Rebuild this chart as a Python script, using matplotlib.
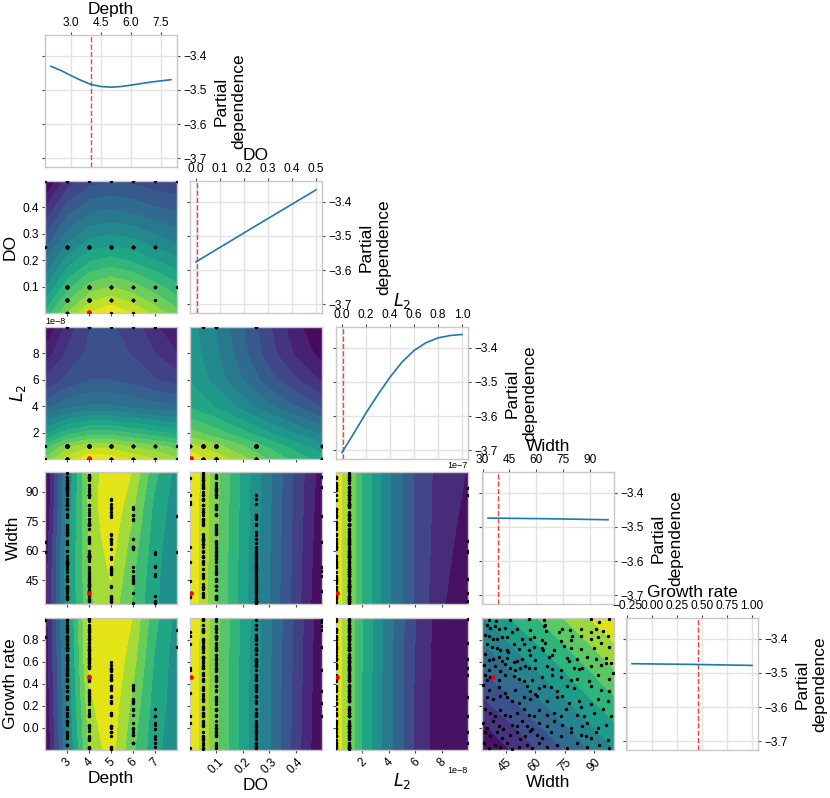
#!/usr/bin/env python3
from __future__ import annotations

import matplotlib
matplotlib.use("Agg")

import matplotlib.pyplot as plt
import numpy as np

plt.rcParams["font.family"] = ["Liberation Sans", "DejaVu Sans"]

NAMES = ["Depth", "DO", "$L_2$", "Width", "Growth rate"]
BOUNDS = [(2, 8), (0.0, 0.5), (0.0, 1e-7), (33, 100), (-0.2, 1.0)]
BEST = [4, 0.004, 1e-9, 38.8, 0.46]

# 1-D partial dependence curves (diagonal)
PD_DEPTH_X = [2, 2.5, 3, 3.5, 4, 4.5, 5, 5.5, 6, 7, 8]
PD_DEPTH_Y = [-3.431, -3.443, -3.458, -3.472, -3.484, -3.490, -3.492,
              -3.490, -3.486, -3.477, -3.470]
PD_DO_X = [0.0, 0.25, 0.5]
PD_DO_Y = [-3.576, -3.470, -3.365]
PD_L2_X = [0, 0.1e-7, 0.2e-7, 0.3e-7, 0.4e-7, 0.5e-7, 0.6e-7, 0.7e-7,
           0.8e-7, 0.9e-7, 1.0e-7]
PD_L2_Y = [-3.707, -3.650, -3.591, -3.537, -3.486, -3.442, -3.408, -3.385,
           -3.371, -3.364, -3.361]
PD_WIDTH_X = [33, 66, 100]
PD_WIDTH_Y = [-3.474, -3.476, -3.479]
PD_GROWTH_X = [-0.2, 0.4, 1.0]
PD_GROWTH_Y = [-3.473, -3.475, -3.478]

PD_TICKS = [-3.7, -3.6, -3.5, -3.4]
DIAG_TICKS = [
    [3.0, 4.5, 6.0, 7.5],
    [0.0, 0.1, 0.2, 0.3, 0.4, 0.5],
    [0.0, 0.2e-7, 0.4e-7, 0.6e-7, 0.8e-7, 1.0e-7],
    [30, 45, 60, 75, 90],
    [-0.25, 0.0, 0.25, 0.5, 0.75, 1.0],
]
PAIR_TICKS = [
    [3, 4, 5, 6, 7],
    [0.1, 0.2, 0.3, 0.4],
    [2e-8, 4e-8, 6e-8, 8e-8],
    [45, 60, 75, 90],
    [0.0, 0.2, 0.4, 0.6, 0.8],
]

# 2-D partial dependence (relative: 0 = lowest, 1 = highest)
DEPTH_GRID = [2, 3, 4, 5, 6, 7, 8]
DO_GRID = [0.0, 0.1, 0.2, 0.3, 0.4, 0.5]
L2_GRID = [0, 1e-8, 2e-8, 4e-8, 6e-8, 8e-8, 1e-7]
WIDTH_GRID5 = [33, 50, 67, 83, 100]
WIDTH_GRID3 = [33, 67, 100]
GROWTH_GRID4 = [-0.2, 0.2, 0.6, 1.0]
GROWTH_GRID3 = [-0.2, 0.4, 1.0]

PD_DO_DEPTH = [
    [0.35, 0.18, 0.05, 0.00, 0.06, 0.14, 0.22],
    [0.50, 0.33, 0.22, 0.18, 0.22, 0.28, 0.35],
    [0.62, 0.47, 0.38, 0.35, 0.38, 0.43, 0.48],
    [0.75, 0.60, 0.52, 0.50, 0.52, 0.56, 0.60],
    [0.87, 0.72, 0.65, 0.63, 0.65, 0.68, 0.70],
    [1.00, 0.84, 0.77, 0.75, 0.76, 0.78, 0.80],
]
PD_L2_DEPTH = [
    [0.20, 0.08, 0.00, 0.02, 0.06, 0.10, 0.15],
    [0.30, 0.18, 0.12, 0.13, 0.17, 0.20, 0.24],
    [0.45, 0.35, 0.30, 0.30, 0.33, 0.36, 0.40],
    [0.68, 0.62, 0.60, 0.60, 0.62, 0.64, 0.66],
    [0.82, 0.76, 0.72, 0.72, 0.74, 0.77, 0.80],
    [0.92, 0.82, 0.76, 0.76, 0.78, 0.83, 0.88],
    [1.00, 0.86, 0.78, 0.77, 0.80, 0.87, 0.95],
]
PD_L2_DO = [
    [0.00, 0.08, 0.16, 0.25, 0.33, 0.40],
    [0.10, 0.16, 0.24, 0.32, 0.40, 0.47],
    [0.22, 0.28, 0.35, 0.43, 0.50, 0.57],
    [0.38, 0.44, 0.52, 0.60, 0.68, 0.75],
    [0.44, 0.52, 0.62, 0.72, 0.80, 0.88],
    [0.46, 0.55, 0.66, 0.78, 0.88, 0.96],
    [0.47, 0.56, 0.68, 0.80, 0.91, 1.00],
]
PD_WIDTH_DEPTH = [
    [0.95, 0.48, 0.22, 0.14, 0.30, 0.45, 0.55],
    [0.95, 0.48, 0.20, 0.10, 0.27, 0.44, 0.55],
    [0.97, 0.50, 0.18, 0.06, 0.23, 0.42, 0.54],
    [1.00, 0.52, 0.17, 0.03, 0.18, 0.40, 0.52],
    [1.00, 0.55, 0.17, 0.05, 0.12, 0.35, 0.50],
]
PD_WIDTH_DO = [
    [0.00, 0.22, 0.42, 0.61, 0.80, 1.00],
    [0.00, 0.21, 0.41, 0.60, 0.79, 0.98],
    [0.00, 0.20, 0.40, 0.59, 0.78, 0.96],
]
PD_WIDTH_L2 = [
    [0.00, 0.17, 0.33, 0.56, 0.75, 0.89, 0.99],
    [0.00, 0.17, 0.33, 0.56, 0.75, 0.87, 0.94],
    [0.00, 0.17, 0.33, 0.56, 0.75, 0.86, 0.91],
]
PD_GROWTH_DEPTH = [
    [1.00, 0.55, 0.16, 0.04, 0.25, 0.42, 0.52],
    [0.98, 0.52, 0.11, 0.02, 0.20, 0.40, 0.50],
    [0.96, 0.50, 0.06, 0.00, 0.14, 0.37, 0.50],
    [0.95, 0.48, 0.04, 0.00, 0.09, 0.33, 0.48],
]
PD_GROWTH_DO = [
    [0.00, 0.21, 0.41, 0.60, 0.80, 1.00],
    [0.00, 0.21, 0.41, 0.60, 0.79, 0.99],
    [0.00, 0.20, 0.40, 0.59, 0.78, 0.98],
]
PD_GROWTH_L2 = [
    [0.00, 0.20, 0.36, 0.60, 0.82, 0.97, 1.00],
    [0.00, 0.20, 0.36, 0.60, 0.82, 0.97, 1.00],
    [0.00, 0.20, 0.35, 0.59, 0.81, 0.96, 0.99],
]
PD_GROWTH_WIDTH = [
    [1.00, 0.75, 0.50],
    [0.75, 0.50, 0.25],
    [0.50, 0.25, 0.00],
]

# evaluated samples
S_DEPTH = [
    3, 4, 3, 4, 2, 3, 4, 3, 4, 4, 3, 4, 3, 4, 3, 4, 3, 4, 3, 4,
    8, 3, 4, 3, 4, 3, 4, 3, 4, 3, 4, 3, 4, 3, 4, 2, 3, 4, 3, 4,
    3, 4, 3, 4, 3, 4, 3, 4, 3, 4, 3, 4, 3, 4, 8, 3, 4, 3, 4, 3,
    4, 3, 4, 3, 4, 3, 4, 3, 4, 3, 5, 4, 3, 4, 3, 4, 3, 4, 3, 4,
    3, 4, 3, 4, 5, 3, 4, 5, 3, 4, 5, 3, 4, 5, 3, 4, 5, 3, 4, 5,
    3, 4, 3, 4, 5, 3, 4, 5, 3, 4, 5, 3, 4, 5, 3, 4, 5, 3, 4, 3,
    4, 3, 6, 5, 3, 4, 6, 5, 3, 4, 6, 5, 3, 4, 6, 5, 3, 4, 3, 5,
    6, 3, 4, 5, 6, 3, 4, 5, 6, 3, 4, 5, 6, 3, 4, 3, 4, 7, 5, 3,
    4, 6, 7, 5, 3, 4, 7, 6, 5, 3, 4, 6, 5, 3, 4, 3, 4, 7, 5, 3,
    4, 6, 7, 5, 3, 4, 7, 6, 5, 3, 4, 6, 5, 3, 4, 3, 5, 7, 3, 4,
    6, 5, 7, 3, 4, 6, 3, 5, 4, 6, 3, 5, 4, 3, 4, 7, 5, 3, 4, 6,
    5, 7, 3, 4, 6, 5, 3, 4, 6, 5, 3, 4,
]
S_DO = [
    0.05, 0.1, 0.25, 0.05, 0.5, 0.05, 0.1, 0.5, 0.05, 0.25,
    0.1, 0.5, 0.25, 0.1, 0.25, 0.05, 0.1, 0.05, 0.1, 0.25,
    0.5, 0.1, 0.05, 0.1, 0.0, 0.05, 0.25, 0.1, 0.25, 0.05,
    0.25, 0.1, 0.05, 0.25, 0.1, 0.25, 0.05, 0.1, 0.05, 0.25,
    0.1, 0.05, 0.1, 0.0, 0.25, 0.05, 0.25, 0.1, 0.25, 0.05,
    0.1, 0.25, 0.0, 0.25, 0.1, 0.05, 0.25, 0.1, 0.05, 0.1,
    0.05, 0.1, 0.05, 0.5, 0.25, 0.1, 0.25, 0.05, 0.25, 0.1,
    0.25, 0.05, 0.25, 0.1, 0.25, 0.05, 0.1, 0.05, 0.25, 0.1,
    0.05, 0.1, 0.05, 0.1, 0.25, 0.0, 0.25, 0.1, 0.25, 0.05,
    0.5, 0.1, 0.25, 0.05, 0.1, 0.05, 0.1, 0.25, 0.05, 0.1,
    0.0, 0.05, 0.1, 0.05, 0.25, 0.1, 0.25, 0.05, 0.25, 0.1,
    0.25, 0.05, 0.25, 0.1, 0.05, 0.1, 0.25, 0.05, 0.1, 0.05,
    0.1, 0.05, 0.25, 0.1, 0.25, 0.0, 0.25, 0.1, 0.25, 0.05,
    0.25, 0.1, 0.05, 0.1, 0.25, 0.05, 0.1, 0.05, 0.5, 0.25,
    0.05, 0.25, 0.1, 0.25, 0.5, 0.25, 0.1, 0.25, 0.05, 0.1,
    0.05, 0.25, 0.1, 0.05, 0.1, 0.05, 0.1, 0.25, 0.05, 0.25,
    0.1, 0.25, 0.5, 0.25, 0.1, 0.25, 0.05, 0.1, 0.05, 0.25,
    0.1, 0.05, 0.1, 0.0, 0.05, 0.1, 0.05, 0.25, 0.1, 0.25,
    0.05, 0.25, 0.1, 0.25, 0.05, 0.25, 0.1, 0.0, 0.25, 0.1,
    0.05, 0.1, 0.25, 0.05, 0.1, 0.05, 0.25, 0.1, 0.25, 0.05,
    0.25, 0.1, 0.25, 0.05, 0.25, 0.1, 0.05, 0.25, 0.1, 0.05,
    0.1, 0.05, 0.25, 0.1, 0.05, 0.25, 0.0, 0.25, 0.1, 0.25,
    0.05, 0.25, 0.1, 0.25, 0.05, 0.25, 0.1, 0.05, 0.1, 0.25,
    0.05, 0.1,
]
# L2 in units of 1e-8
S_L2_E8 = [
    1, 0, 1, 1, 0, 1, 10, 1, 0, 1, 1, 1, 0, 1, 1, 0, 1, 1, 0, 1,
    0, 1, 1, 0, 1, 1, 1, 0, 1, 1, 1, 0, 1, 1, 0, 1, 1, 10, 1, 0,
    1, 1, 0, 1, 1, 0, 1, 1, 1, 0, 1, 0, 1, 1, 1, 0, 1, 1, 0, 1,
    1, 1, 0, 1, 1, 0, 10, 1, 1, 0, 1, 1, 0, 1, 1, 1, 0, 1, 1, 0,
    1, 0, 1, 1, 0, 1, 1, 1, 0, 1, 1, 0, 1, 1, 10, 0, 1, 1, 0, 1,
    1, 1, 0, 1, 1, 0, 1, 1, 1, 0, 1, 0, 1, 1, 0, 1, 1, 0, 1, 10,
    0, 1, 1, 1, 0, 1, 1, 0, 1, 1, 0, 1, 1, 0, 1, 1, 1, 0, 1, 1,
    0, 1, 10, 1, 0, 1, 1, 0, 1, 1, 1, 0, 1, 1, 0, 1, 1, 1, 0, 1,
    1, 0, 1, 1, 0, 1, 10, 1, 0, 1, 1, 1, 0, 1, 1, 0, 1, 1, 1, 0,
    1, 0, 1, 1, 0, 1, 1, 0, 1, 1, 0, 1, 1, 1, 0, 1, 10, 0, 1, 1,
    0, 1, 1, 0, 1, 1, 1, 0, 1, 1, 1, 0, 1, 1, 0, 1, 1, 0, 1, 10,
    1, 0, 1, 1, 0, 1, 1, 1, 0, 1, 1, 0,
]
S_WIDTH = [
    36.8, 40.0, 47.3, 57.0, 64.4, 65.2, 88.2, 92.2, 97.6, 35.4,
    37.1, 39.6, 41.4, 44.8, 50.7, 57.6, 64.4, 65.7, 72.0, 73.4,
    77.7, 78.9, 83.5, 90.8, 88.2, 94.2, 34.6, 36.3, 38.8, 40.5,
    43.1, 45.6, 48.2, 53.3, 57.6, 59.3, 63.5, 65.2, 72.9, 78.0,
    83.1, 88.2, 91.7, 96.8, 35.4, 38.0, 40.5, 42.2, 45.6, 46.0,
    49.0, 51.6, 54.1, 56.7, 59.3, 63.5, 64.0, 69.5, 74.6, 78.0,
    83.1, 89.9, 93.4, 97.6, 34.6, 36.3, 38.8, 41.4, 43.1, 45.6,
    49.0, 50.7, 53.3, 57.6, 60.1, 66.9, 68.6, 76.3, 77.2, 81.4,
    86.5, 90.8, 95.9, 98.5, 34.0, 36.3, 39.6, 42.2, 44.8, 47.3,
    49.9, 52.4, 55.0, 56.7, 60.1, 66.1, 68.6, 72.9, 79.7, 82.3,
    84.0, 88.2, 93.4, 95.9, 34.6, 35.4, 37.1, 41.4, 44.8, 49.0,
    51.6, 54.1, 58.4, 63.5, 68.6, 72.9, 78.0, 81.4, 87.4, 91.7,
    97.6, 99.3, 33.7, 36.3, 41.4, 44.8, 49.9, 55.8, 57.6, 60.1,
    61.8, 64.4, 67.8, 71.2, 76.3, 79.7, 88.2, 93.4, 97.6, 35.4,
    38.8, 42.2, 45.6, 48.2, 51.6, 54.1, 57.6, 61.0, 66.1, 71.2,
    73.7, 77.2, 82.3, 83.1, 88.2, 91.7, 96.8, 34.6, 37.1, 39.6,
    42.2, 44.8, 47.3, 50.7, 54.1, 56.7, 59.3, 61.8, 66.1, 69.5,
    72.9, 75.5, 81.4, 84.8, 89.9, 94.2, 98.5, 33.7, 35.4, 38.8,
    41.4, 43.9, 48.2, 50.7, 53.3, 55.8, 58.4, 61.8, 66.1, 69.5,
    73.7, 78.0, 84.0, 86.5, 91.7, 95.9, 34.6, 37.1, 40.5, 43.1,
    47.3, 50.7, 52.4, 55.0, 57.6, 61.0, 63.5, 67.8, 72.9, 78.0,
    83.1, 85.7, 88.2, 90.8, 96.8, 34.0, 36.3, 39.6, 42.2, 45.6,
    48.2, 51.6, 55.8, 58.4, 61.8, 66.1, 71.2, 76.3, 81.4, 86.5,
    92.5, 97.6,
]
S_GROWTH = [
    0.98, 0.97, 0.98, 0.99, 0.98, 0.94, 0.99, 0.96, 0.99, 0.94,
    0.91, 0.93, 0.90, 0.91, 0.90, 0.89, 0.93, 0.88, 0.87, 0.90,
    0.89, 0.84, 0.90, 0.90, 0.87, 0.88, 0.85, 0.84, 0.81, 0.81,
    0.83, 0.83, 0.87, 0.81, 0.81, 0.83, 0.80, 0.77, 0.79, 0.80,
    0.84, 0.81, 0.83, 0.84, 0.76, 0.74, 0.73, 0.71, 0.71, 0.69,
    0.76, 0.72, 0.76, 0.71, 0.74, 0.73, 0.71, 0.71, 0.75, 0.73,
    0.72, 0.73, 0.77, 0.74, 0.67, 0.62, 0.63, 0.65, 0.61, 0.64,
    0.60, 0.61, 0.63, 0.66, 0.62, 0.65, 0.66, 0.64, 0.61, 0.63,
    0.65, 0.63, 0.64, 0.59, 0.57, 0.53, 0.56, 0.52, 0.58, 0.55,
    0.53, 0.55, 0.56, 0.55, 0.55, 0.56, 0.54, 0.53, 0.55, 0.54,
    0.55, 0.56, 0.57, 0.59, 0.48, 0.44, 0.46, 0.44, 0.48, 0.47,
    0.45, 0.43, 0.44, 0.46, 0.48, 0.46, 0.44, 0.45, 0.43, 0.48,
    0.45, 0.50, 0.39, 0.35, 0.37, 0.32, 0.35, 0.38, 0.34, 0.31,
    0.36, 0.38, 0.37, 0.34, 0.38, 0.36, 0.38, 0.35, 0.34, 0.28,
    0.26, 0.29, 0.28, 0.25, 0.23, 0.28, 0.26, 0.29, 0.25, 0.28,
    0.29, 0.23, 0.25, 0.19, 0.22, 0.26, 0.25, 0.17, 0.14, 0.11,
    0.16, 0.12, 0.11, 0.14, 0.17, 0.12, 0.11, 0.16, 0.12, 0.14,
    0.11, 0.17, 0.12, 0.11, 0.14, 0.17, 0.11, 0.05, 0.00, 0.06,
    0.02, -0.01, 0.03, 0.02, 0.06, 0.02, -0.01, 0.05, 0.02, 0.06,
    0.03, 0.00, 0.02, 0.05, 0.00, 0.03, -0.04, -0.07, -0.04, -0.09,
    -0.06, -0.04, -0.10, -0.07, -0.03, -0.06, -0.09, -0.04, -0.07, -0.04,
    -0.06, -0.07, -0.09, -0.04, -0.11, -0.14, -0.18, -0.15, -0.17, -0.14,
    -0.19, -0.17, -0.15, -0.18, -0.14, -0.17, -0.15, -0.18, -0.14, -0.17,
    -0.15, -0.18,
]

# layout in pixels
FIG_W, FIG_H = 830, 798
COL_X = [45, 190, 336, 482, 626]
ROW_Y = [35, 181, 327, 472, 618]
BOX = 132
SPINE = "#c8c8c8"
GRID = "#e3e3e3"
LABEL_SIZE = 12.5
TICK_SIZE = 8.6


def fmt(v: float, nd: int) -> str:
    return f"{v:.{nd}f}".replace("-", "\u2212")


def tick_label(i: int, v: float, diag: bool) -> str:
    if i == 0:
        return fmt(v, 1) if diag else str(int(v))
    if i == 1:
        return fmt(v, 1)
    if i == 2:
        return fmt(v / 1e-7, 1) if diag else str(int(round(v / 1e-8)))
    if i == 3:
        return str(int(v))
    return fmt(v, 2) if diag else fmt(v, 1)


def add_panel(fig, row: int, col: int):
    ax = fig.add_axes([
        COL_X[col] / FIG_W,
        1 - (ROW_Y[row] + BOX) / FIG_H,
        BOX / FIG_W,
        BOX / FIG_H,
    ])
    for sp in ax.spines.values():
        sp.set_color(SPINE)
        sp.set_linewidth(1.0)
    ax.tick_params(length=2.5, width=0.8, color="#444444",
                   labelsize=TICK_SIZE, pad=2)
    return ax


def draw_diag(ax, i: int, x, y) -> None:
    ax.plot(x, y, color="tab:blue", lw=1.2, zorder=3)
    ax.axvline(BEST[i], color="#ff3b3b", ls="--", lw=1.0, zorder=2)
    lo, hi = BOUNDS[i]
    pad = 0.05 * (hi - lo)
    ax.set_xlim(lo - pad, hi + pad)
    ax.set_ylim(-3.726, -3.339)
    ax.set_xticks(DIAG_TICKS[i], [tick_label(i, t, True) for t in DIAG_TICKS[i]])
    ax.set_yticks(PD_TICKS, [fmt(t, 1) for t in PD_TICKS])
    ax.xaxis.tick_top()
    ax.xaxis.set_label_position("top")
    ax.yaxis.tick_right()
    ax.yaxis.set_label_position("right")
    ax.tick_params(axis="y", left=True, right=True)
    ax.set_xlabel(NAMES[i], fontsize=LABEL_SIZE, labelpad=2)
    ax.set_ylabel("Partial\ndependence", fontsize=LABEL_SIZE, labelpad=5)
    ax.grid(True, color=GRID, lw=1.0)
    ax.set_axisbelow(True)
    if i == 2:
        ax.text(1.0, -0.015, "1e\u22127", transform=ax.transAxes,
                ha="right", va="top", fontsize=6.5)


def draw_pair(ax, row: int, col: int, xs, ys, z, n: int, samples) -> None:
    z = np.array(z)
    levels = np.linspace(z.min(), z.max(), n + 1)
    ax.contourf(xs, ys, z, levels=levels, cmap="viridis_r")
    ax.scatter(samples[col], samples[row], c="k", s=6, lw=0, zorder=3)
    ax.scatter([BEST[col]], [BEST[row]], c="r", s=11, lw=0, zorder=4)
    ax.set_xlim(BOUNDS[col])
    ax.set_ylim(BOUNDS[row])
    ax.set_xticks(PAIR_TICKS[col])
    ax.set_yticks(PAIR_TICKS[row])
    if row == 4:
        ax.set_xticklabels([tick_label(col, t, False) for t in PAIR_TICKS[col]],
                           rotation=45)
        ax.set_xlabel(NAMES[col], fontsize=LABEL_SIZE, labelpad=1)
        if col == 2:
            ax.text(1.0, -0.12, "1e\u22128", transform=ax.transAxes,
                    ha="right", va="top", fontsize=6.5)
    else:
        ax.set_xticklabels([])
    if col == 0:
        ax.set_yticklabels([tick_label(row, t, False) for t in PAIR_TICKS[row]])
        ax.set_ylabel(NAMES[row], fontsize=LABEL_SIZE, labelpad=3)
        if row == 2:
            ax.text(0.0, 1.01, "1e\u22128", transform=ax.transAxes,
                    ha="left", va="bottom", fontsize=6.5)
    else:
        ax.set_yticklabels([])


def main() -> None:
    samples = [
        S_DEPTH,
        S_DO,
        [v * 1e-8 for v in S_L2_E8],
        S_WIDTH,
        S_GROWTH,
    ]
    curves = [
        (PD_DEPTH_X, PD_DEPTH_Y),
        (PD_DO_X, PD_DO_Y),
        (PD_L2_X, PD_L2_Y),
        (PD_WIDTH_X, PD_WIDTH_Y),
        (PD_GROWTH_X, PD_GROWTH_Y),
    ]
    surfaces = {
        (1, 0): (DEPTH_GRID, DO_GRID, PD_DO_DEPTH, 16),
        (2, 0): (DEPTH_GRID, L2_GRID, PD_L2_DEPTH, 18),
        (2, 1): (DO_GRID, L2_GRID, PD_L2_DO, 16),
        (3, 0): (DEPTH_GRID, WIDTH_GRID5, PD_WIDTH_DEPTH, 11),
        (3, 1): (DO_GRID, WIDTH_GRID3, PD_WIDTH_DO, 13),
        (3, 2): (L2_GRID, WIDTH_GRID3, PD_WIDTH_L2, 12),
        (4, 0): (DEPTH_GRID, GROWTH_GRID4, PD_GROWTH_DEPTH, 11),
        (4, 1): (DO_GRID, GROWTH_GRID3, PD_GROWTH_DO, 13),
        (4, 2): (L2_GRID, GROWTH_GRID3, PD_GROWTH_L2, 11),
        (4, 3): (WIDTH_GRID3, GROWTH_GRID3, PD_GROWTH_WIDTH, 10),
    }

    fig = plt.figure(figsize=(FIG_W / 100, FIG_H / 100), dpi=100)
    for row in range(5):
        for col in range(row + 1):
            ax = add_panel(fig, row, col)
            if row == col:
                draw_diag(ax, row, *curves[row])
            else:
                xs, ys, z, n = surfaces[(row, col)]
                draw_pair(ax, row, col, xs, ys, z, n, samples)

    fig.savefig("out.png", dpi=100)


if __name__ == "__main__":
    main()
